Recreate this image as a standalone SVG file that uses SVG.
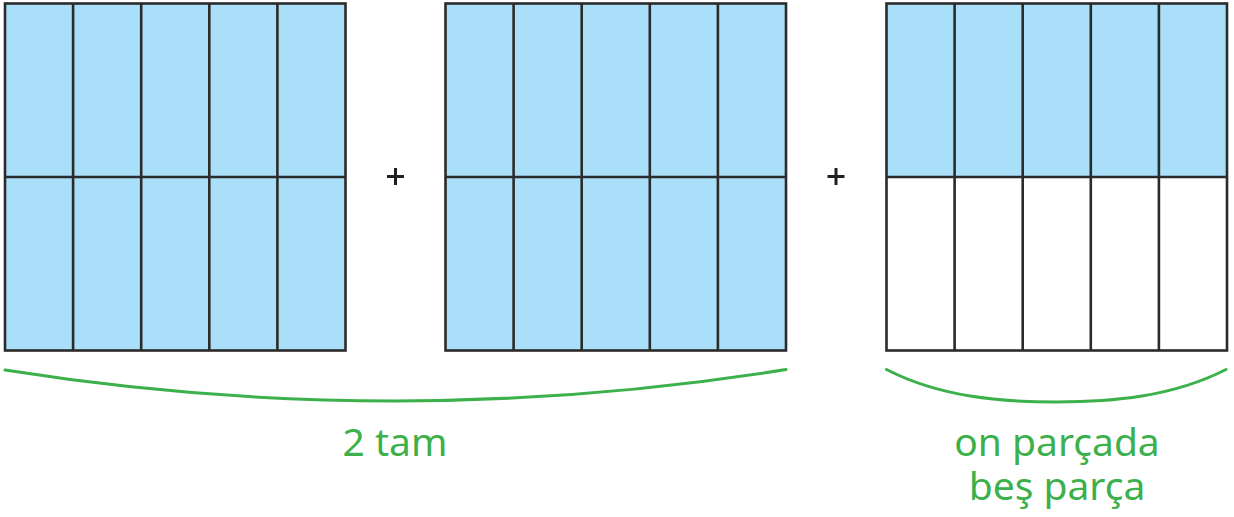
<svg xmlns="http://www.w3.org/2000/svg" width="1234" height="517" viewBox="0 0 1234 517">
<style>
.grid{fill:none;stroke:#2b2b2b;stroke-width:2.6;}
.blue{fill:#aadff9;}
.white{fill:#ffffff;}
.plus{stroke:#231f20;stroke-width:3;}
.brace{fill:none;stroke:#3cb04a;stroke-width:3;stroke-linecap:round;}
.lbl{font-family:"Noto Sans","Open Sans",sans-serif;font-size:39px;fill:#3cb04a;text-anchor:middle;}
</style>
<defs>
<g id="lines">
<path class="grid" d="M68.1,0V347M136.2,0V347M204.3,0V347M272.4,0V347M0,173.5H340.5"/>
<rect class="grid" x="0" y="0" width="340.5" height="347"/>
</g>
</defs>
<g id="grid1" transform="translate(5,3.5)">
<rect class="blue" x="0" y="0" width="340.5" height="347"/>
<use href="#lines"/>
</g>
<g id="plus1"><path class="plus" d="M387,176.5H404M395.5,168V185"/></g>
<g id="grid2" transform="translate(445.5,3.5)">
<rect class="blue" x="0" y="0" width="340.5" height="347"/>
<use href="#lines"/>
</g>
<g id="plus2"><path class="plus" d="M827.5,176.5H844.5M836,168V185"/></g>
<g id="grid3" transform="translate(886.5,3.5)">
<rect class="blue" x="0" y="0" width="340.5" height="173.5"/>
<rect class="white" x="0" y="173.5" width="340.5" height="173.5"/>
<use href="#lines"/>
</g>
<g id="connectors">
<path class="brace" d="M5,370Q395.5,432 786,369.5"/>
<path class="brace" d="M886.5,369.5C940,397 1000,402 1056,402C1112,402 1172,397 1226,369.5"/>
</g>
<g id="label1"><text class="lbl" x="395" y="456">2 tam</text></g>
<g id="label2"><text class="lbl"><tspan x="1057" y="456">on parçada</tspan><tspan x="1057" y="500">beş parça</tspan></text></g>
</svg>
